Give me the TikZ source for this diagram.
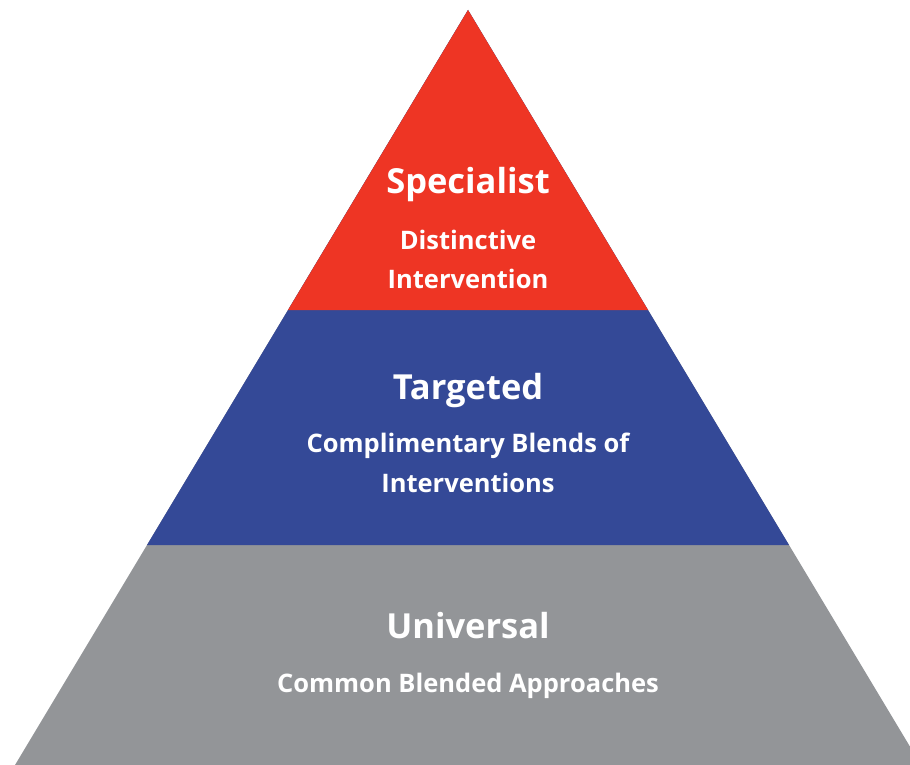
\documentclass[tikz,border=0pt]{standalone}
\usepackage{fontspec}
\setmainfont{Open Sans}
\definecolor{specred}{HTML}{EE3524}
\definecolor{targblue}{HTML}{344997}
\definecolor{univgray}{HTML}{939598}
\tikzset{
  tiertitle/.style={text=white, inner sep=0pt, anchor=base,
    font=\bfseries\fontsize{34.5}{38}\selectfont},
  tiertext/.style={text=white, inner sep=0pt, anchor=base,
    font=\bfseries\fontsize{25.5}{29}\selectfont},
}
\begin{document}
\begin{tikzpicture}[x=1pt,y=-1pt]
        \useasboundingbox (0,0) rectangle (910,765);
        \clip (0,0) rectangle (910,765);

        % pyramid, painted bottom tier first
        \fill [univgray] (468,10) -- (921,765) -- (15,765) -- cycle;
        \fill [targblue] (468,10) -- (789,545) -- (147,545) -- cycle;
        \fill [specred] (468,10) -- (648,310) -- (288,310) -- cycle;

        \node [tiertitle] (spec) at (468,193) {Specialist};
        \node [tiertext] (specA) at (468,249) {Distinctive};
        \node [tiertext] (specB) at (468,288) {Intervention};

        \node [tiertitle] (targ) at (468,399) {Targeted};
        \node [tiertext] (targA) at (468,452) {Complimentary Blends of};
        \node [tiertext] (targB) at (468,492) {Interventions};

        \node [tiertitle] (univ) at (468,638) {Universal};
        \node [tiertext] (univA) at (468,692) {Common Blended Approaches};
      \end{tikzpicture}
\end{document}
